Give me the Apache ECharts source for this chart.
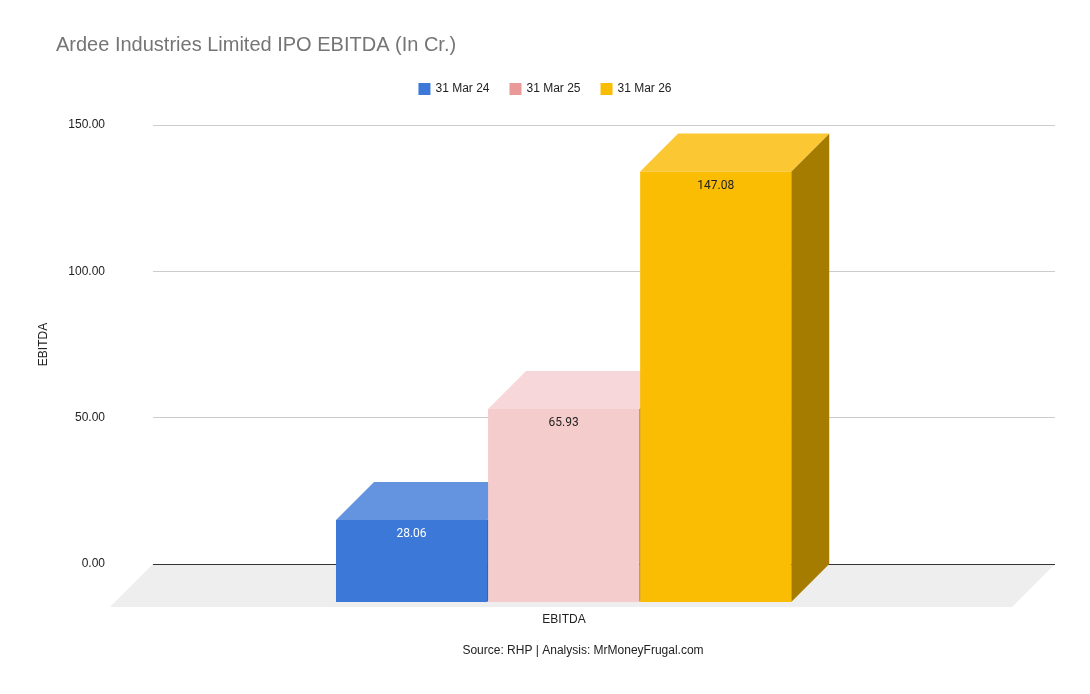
<!DOCTYPE html>
<html>
<head>
<meta charset="utf-8">
<script src="https://cdn.jsdelivr.net/npm/echarts@6/dist/echarts.min.js"></script>
<style>html,body{margin:0;padding:0;background:#fff;}#c{width:1090px;height:694px;}</style>
</head>
<body>
<div id="c"></div>
<script>
const categories = ['EBITDA'];
const seriesNames = ['31 Mar 24', '31 Mar 25', '31 Mar 26'];
const values = [28.06, 65.93, 147.08];
const yTicks = { min: 0, max: 150, interval: 50 };

const legendColors = ['#3c78d8', '#ea9999', '#fbbc04'];
const frontColors = ['#3c78d8', '#f4cccc', '#fbbc04'];
const topColors = ['#6493e0', '#f7d7d9', '#fbc834'];
const sideColors = ['#2c5aa5', '#8f8080', '#a67c00'];
const labelColors = ['#ffffff', '#222222', '#222222'];

const DEPTH = 38;       // bar depth offset (px)
const FLOOR_DEPTH = 43; // floor depth offset (px)
const GROUP_START = 0.245;
const BAR_FRAC = 0.1675;

function barRender(idx) {
  return function (params, api) {
    const cat = api.value(0);
    const v = api.value(1);
    const base = api.coord([cat, 0]);
    const top = api.coord([cat, v]);
    const band = api.size([1, 0])[0];
    const w = band * BAR_FRAC;
    const x0 = base[0] - band / 2 + band * GROUP_START + idx * (w + 1);
    const D = DEPTH;
    const fx = x0 - D, fTop = top[1] + D, fBot = base[1] + D;
    return {
      type: 'group',
      children: [
        { type: 'polygon', shape: { points: [[fx + w, fTop], [x0 + w, top[1]], [x0 + w, base[1]], [fx + w, fBot]] },
          style: { fill: sideColors[idx] } },
        { type: 'polygon', shape: { points: [[fx, fTop], [fx + w, fTop], [x0 + w, top[1]], [x0, top[1]]] },
          style: { fill: topColors[idx] } },
        { type: 'rect', shape: { x: fx, y: fTop, width: w, height: fBot - fTop },
          style: { fill: frontColors[idx] } },
        { type: 'text', x: fx + w / 2, y: fTop + 14,
          style: { text: v.toFixed(2), fill: labelColors[idx], font: '12px Roboto', align: 'center', verticalAlign: 'middle' } }
      ]
    };
  };
}

function floorRender(params, api) {
  const cs = params.coordSys;
  const by = api.coord([0, 0])[1];
  const F = FLOOR_DEPTH;
  return {
    type: 'group',
    children: [
      { type: 'polygon', shape: { points: [[cs.x, by], [cs.x + cs.width, by], [cs.x + cs.width - F, by + F], [cs.x - F, by + F]] },
        style: { fill: '#eeeeee' } },
      { type: 'line', shape: { x1: cs.x, y1: by + 0.5, x2: cs.x + cs.width, y2: by + 0.5 },
        style: { stroke: '#333333', lineWidth: 1 } },
      { type: 'text', x: cs.x + cs.width / 2 - F + 3, y: by + 56,
        style: { text: categories[0], fill: '#222', font: '12px Arial', align: 'center', verticalAlign: 'middle' } }
    ]
  };
}

const series = [{
  type: 'custom', name: '__floor', z: 1, silent: true,
  renderItem: floorRender, data: [[0, 0]]
}];
seriesNames.forEach((n, i) => {
  series.push({
    type: 'custom', name: n, z: 3 + i,
    itemStyle: { color: legendColors[i] },
    renderItem: barRender(i),
    data: [[0, values[i]]]
  });
});

const chart = echarts.init(document.getElementById('c'));
chart.setOption({
  animation: false,
  backgroundColor: '#ffffff',
  title: {
    text: 'Ardee Industries Limited IPO EBITDA (In Cr.)',
    left: 51, top: 30,
    textStyle: { fontFamily: 'Arial', fontSize: 20, fontWeight: 'normal', color: '#757575' }
  },
  legend: {
    data: seriesNames,
    top: 78, left: 'center',
    icon: 'rect', itemWidth: 12, itemHeight: 12, itemGap: 20,
    textStyle: { fontFamily: 'Arial', fontSize: 12, color: '#222' }
  },
  grid: { left: 153, right: 35, top: 125, bottom: 130, containLabel: false },
  xAxis: {
    type: 'category', data: categories,
    axisLine: { show: false },
    axisTick: { show: false }, axisLabel: { show: false }, splitLine: { show: false }
  },
  yAxis: {
    type: 'value', min: yTicks.min, max: yTicks.max, interval: yTicks.interval,
    name: 'EBITDA', nameLocation: 'middle', nameGap: 103, nameRotate: 90,
    nameTextStyle: { fontFamily: 'Arial', fontSize: 12, color: '#222' },
    axisLine: { show: false }, axisTick: { show: false },
    axisLabel: { margin: 48, formatter: v => v.toFixed(2), fontFamily: 'Arial', fontSize: 12, color: '#222' },
    splitLine: { lineStyle: { color: '#cccccc' } }
  },
  graphic: [{
    type: 'text', x: 583, y: 651,
    style: { text: 'Source: RHP | Analysis: MrMoneyFrugal.com', fill: '#222', font: '12px Arial', align: 'center', verticalAlign: 'middle' }
  }],
  series: series
});
</script>
</body>
</html>
